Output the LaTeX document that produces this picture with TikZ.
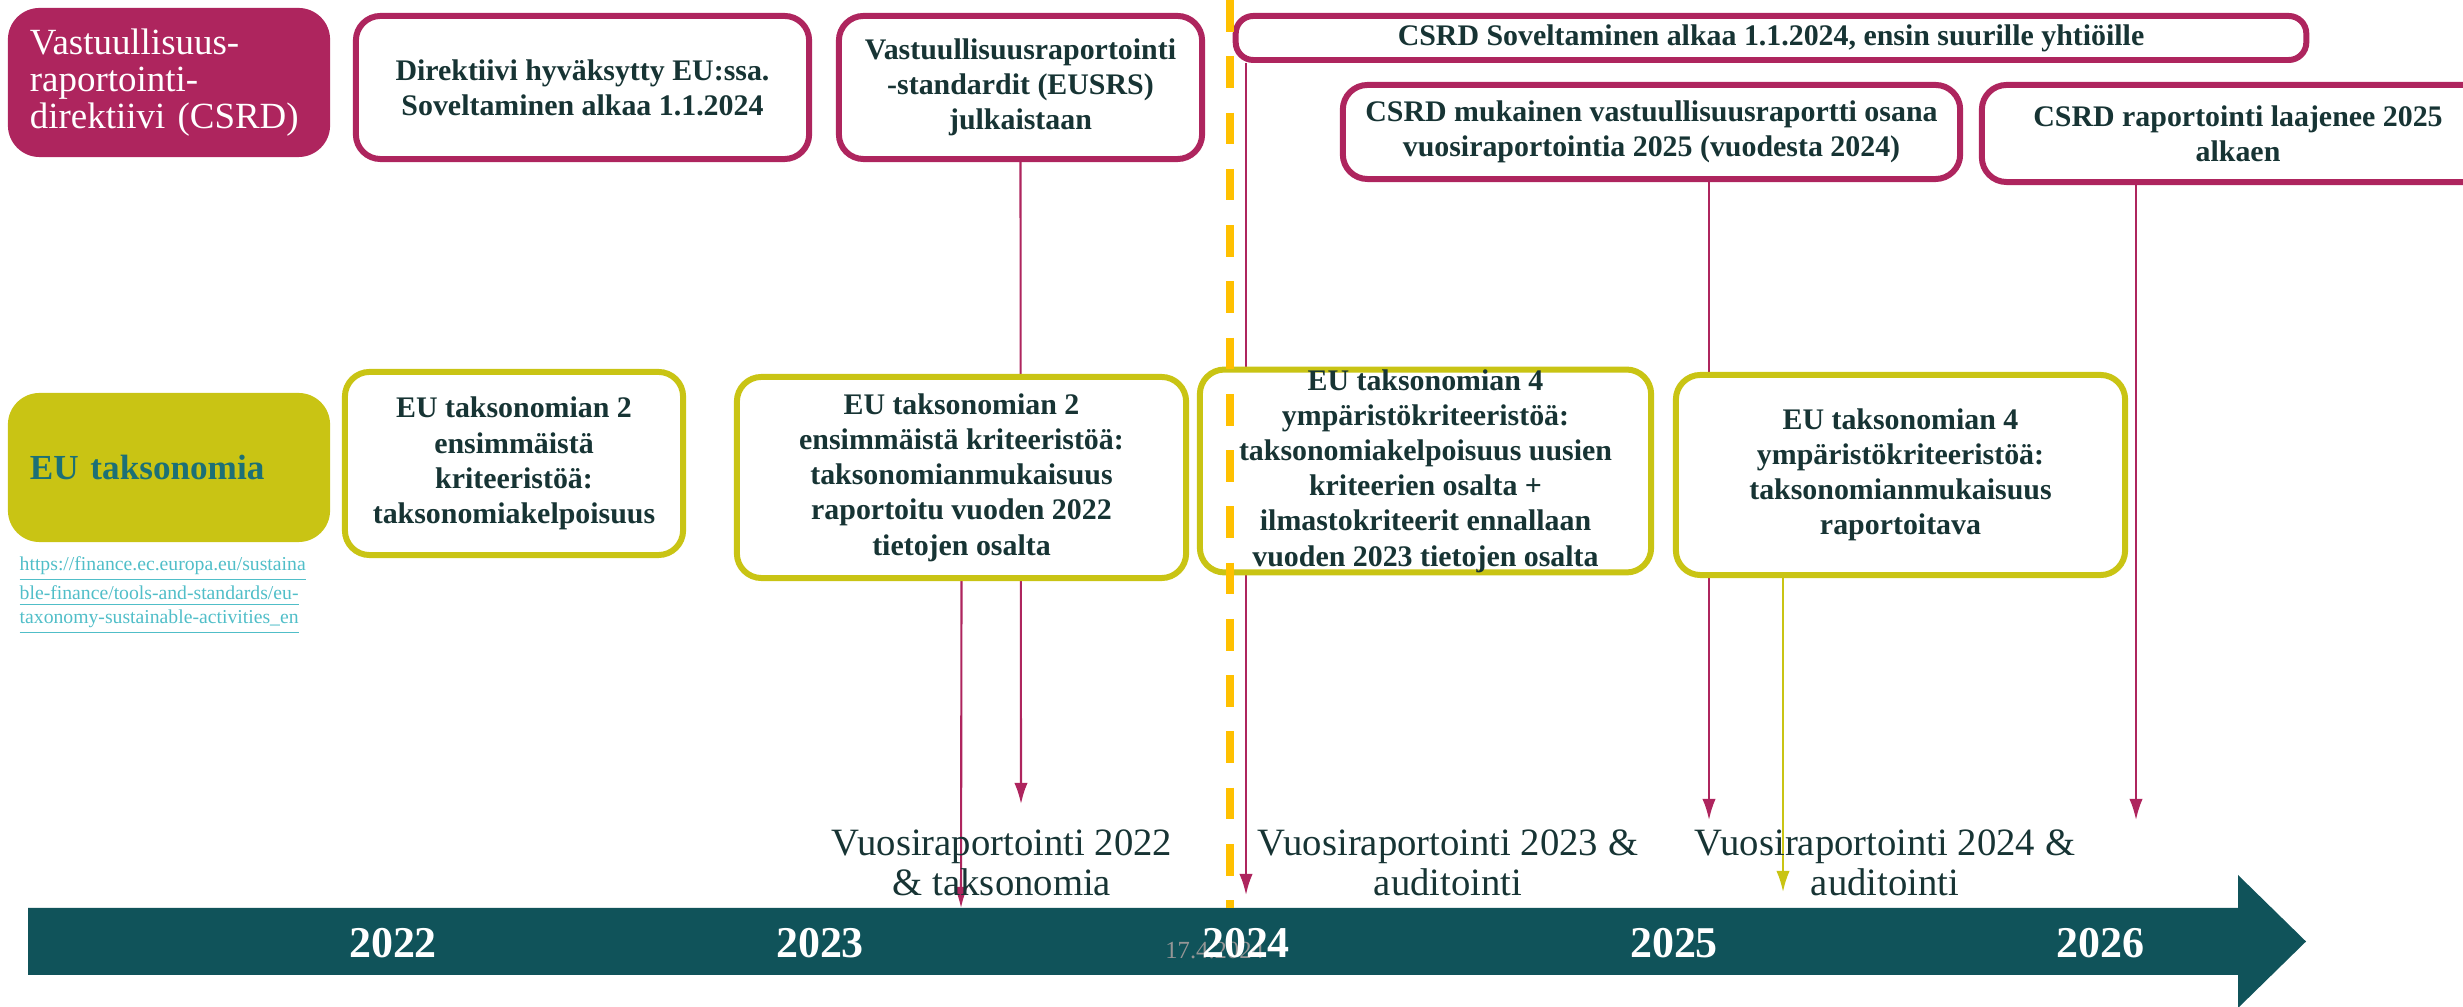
\documentclass[tikz,border=0pt]{standalone}
\usepackage{fontspec}
\setmainfont{Liberation Serif}
\usetikzlibrary{arrows.meta,positioning,backgrounds}

\definecolor{csrd}{RGB}{174,37,94}
\definecolor{taxo}{RGB}{201,196,20}
\definecolor{tealbar}{RGB}{16,83,90}
\definecolor{ink}{RGB}{23,52,52}
\definecolor{dashgold}{RGB}{255,192,0}
\definecolor{taxtext}{RGB}{28,112,118}
\definecolor{linkcyan}{RGB}{80,190,200}
\definecolor{dategray}{RGB}{150,150,150}

\begin{document}
\begin{tikzpicture}[
    x=0.01cm, y=-0.01cm,
    box/.style={draw=csrd, line width=1.7pt, rounded corners=7pt, fill=white, align=center,
        text=ink, inner sep=0pt, font=\bfseries\fontsize{8.5}{10}\selectfont},
    taxbox/.style={box, draw=taxo},
    headbox/.style={rounded corners=9pt, inner xsep=0.22cm, inner ysep=0pt, align=left,
        minimum height=1.49cm, text width=2.78cm},
    link/.style={draw=csrd, line width=0.6pt, -{Latex[length=6pt,width=3.8pt]}},
    taxlink/.style={link, draw=taxo},
    year/.style={text=white, font=\bfseries\fontsize{12.5}{14}\selectfont},
    note/.style={align=center, text=ink, font=\fontsize{11}{11.5}\selectfont}]
\useasboundingbox (0,0) rectangle (2463,1007);

% timeline
\fill[tealbar] (28,908) -- (2238,908) -- (2238,875) -- (2306,941.5) -- (2238,1008)
    -- (2238,975) -- (28,975) -- cycle;
\node[text=dategray, font=\fontsize{7}{8}\selectfont, anchor=west] (datestamp) at (1153,950) {17.4.2024};
\node[year] (y2022) at (393,943) {2022};
\node[year] (y2023) at (820,943) {2023};
\node[year] (y2024) at (1246,943) {2024};
\node[year] (y2025) at (1674,943) {2025};
\node[year] (y2026) at (2100,943) {2026};

% row headers
\node[headbox, fill=csrd, text=white, font=\fontsize{10.5}{10.6}\selectfont] (csrdhead) at (169,82.5)
    {Vastuullisuus-\\raportointi-\\direktiivi~(CSRD)};
\node[headbox, fill=taxo, text=taxtext, font=\bfseries\fontsize{10}{12}\selectfont] (taxhead) at (169,467.5)
    {EU taksonomia};
\node[anchor=north west, align=left, text=linkcyan, inner sep=0pt, font=\fontsize{5.6}{6.9}\selectfont] (taxurl) at (19,556)
    {\underline{https://finance.ec.europa.eu/sustaina}\\
     \underline{ble-finance/tools-and-standards/eu-}\\
     \underline{taxonomy-sustainable-activities\_en}};

% CSRD boxes
\node[box, minimum width=4.53cm, minimum height=1.43cm] (direktiivi) at (582.5,87.5)
    {Direktiivi hyväksytty EU:ssa.\\Soveltaminen alkaa 1.1.2024};
\node[box, minimum width=3.63cm, minimum height=1.43cm] (eusrs) at (1020.5,87.5)
    {Vastuullisuusraportointi\\-standardit (EUSRS)\\julkaistaan};
\node[box, rounded corners=5pt, minimum width=10.70cm, minimum height=0.44cm] (soveltaminen) at (1771,38)
    {CSRD Soveltaminen alkaa 1.1.2024, ensin suurille yhtiöille};
\node[box, minimum width=6.17cm, minimum height=0.94cm] (mukainen) at (1651.5,132)
    {CSRD mukainen vastuullisuusraportti osana\\vuosiraportointia 2025 (vuodesta 2024)};
\node[box, minimum width=5.12cm, minimum height=0.97cm] (laajenee) at (2238,133.5)
    {CSRD raportointi laajenee 2025\\alkaen};

% taxonomy boxes
\node[taxbox, minimum width=3.38cm, minimum height=1.83cm] (tax1) at (514,463.5)
    {EU taksonomian 2\\ensimmäistä\\kriteeristöä:\\taksonomiakelpoisuus};
\node[taxbox, minimum width=4.49cm, minimum height=2.01cm] (tax2) at (961.5,477.5)
    {EU taksonomian 2\\ensimmäistä kriteeristöä:\\taksonomianmukaisuus\\raportoitu vuoden 2022\\tietojen osalta};
\node[taxbox, minimum width=4.51cm, minimum height=1.98cm] (tax3) at (1425.5,471)
    {EU taksonomian 4\\ympäristökriteeristöä:\\taksonomiakelpoisuus uusien\\kriteerien osalta +\\ilmastokriteerit ennallaan\\vuoden 2023 tietojen osalta};
\node[taxbox, minimum width=4.49cm, minimum height=2.00cm] (tax4) at (1900.5,475)
    {EU taksonomian 4\\ympäristökriteeristöä:\\taksonomianmukaisuus\\raportoitava};

% notes above the timeline
\node[note] (rep2022) at (1002,863) {Vuosiraportointi 2022\\\& taksonomia};
\node[note] (rep2023) at (1448,863) {Vuosiraportointi 2023 \&\\auditointi};
\node[note] (rep2024) at (1885,863) {Vuosiraportointi 2024 \&\\auditointi};

% arrow ends
\coordinate (eusrs-end) at (1021,804);
\coordinate (tax2-end) at (961,908);
\coordinate (sov-end) at (1246,895);
\coordinate (muk-end) at (1709,820);
\coordinate (laaj-end) at (2136,820);
\coordinate (tax4-end) at (1783,892);

\begin{scope}[on background layer]
\draw[link] (eusrs.south) -- (eusrs-end);
\draw[link] (tax2.south) -- (tax2-end);
\draw[link] (sov-end |- soveltaminen.south) -- (sov-end);
\draw[link] (muk-end |- mukainen.south) -- (muk-end);
\draw[link] (laaj-end |- laajenee.south) -- (laaj-end);
\draw[taxlink] (tax4-end |- tax4.south) -- (tax4-end);
\end{scope}

% 1.1.2024
\coordinate (cut-top) at (1230,0);
\coordinate (cut-bot) at (1230,908);
\draw[dashgold, line width=2.2pt, dash pattern=on 9pt off 7pt] (cut-top) -- (cut-bot);

\end{tikzpicture}
\end{document}
